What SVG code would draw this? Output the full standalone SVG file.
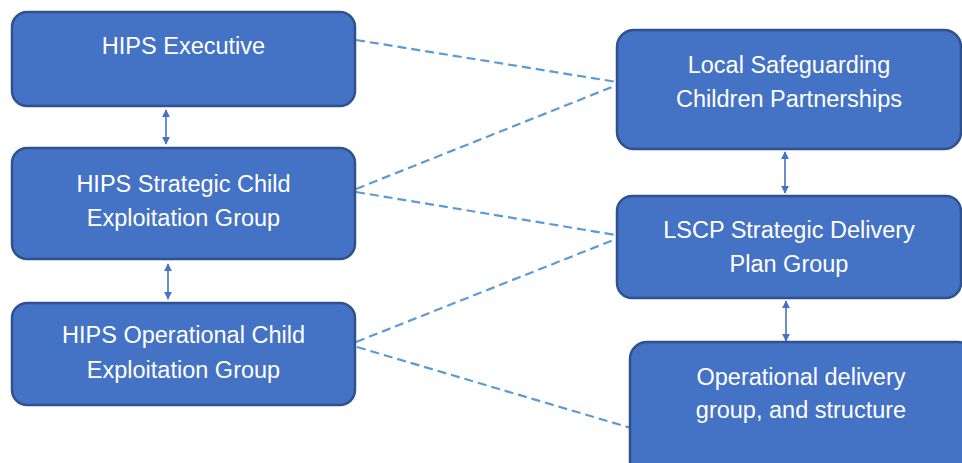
<svg xmlns="http://www.w3.org/2000/svg" width="962" height="463" viewBox="0 0 962 463">
<defs>
<style>
.box{fill:#4472C4;stroke:#2F528F;stroke-width:2.5}
.t{font-family:"Liberation Sans",Arial,sans-serif;font-size:23.5px;fill:#ffffff;text-anchor:middle}
.dash{stroke:#5B9BD5;stroke-width:2.2;stroke-dasharray:9,5;fill:none}
.arr{stroke:#4472C4;stroke-width:1.6;fill:none;marker-start:url(#ah);marker-end:url(#ah)}
</style>
<marker id="ah" viewBox="0 0 10 10" refX="9" refY="5" markerWidth="8" markerHeight="8" markerUnits="userSpaceOnUse" orient="auto-start-reverse">
<path d="M0,0 L10,5 L0,10 Z" fill="#4472C4"/>
</marker>
</defs>
<rect width="962" height="463" fill="#ffffff"/>
<g id="connectors">
<line class="dash" x1="356" y1="40" x2="617" y2="82"/>
<line class="dash" x1="356" y1="189" x2="617" y2="85"/>
<line class="dash" x1="356" y1="192" x2="616" y2="235"/>
<line class="dash" x1="356" y1="342" x2="616" y2="239"/>
<line class="dash" x1="357" y1="347" x2="631" y2="428"/>
<line class="arr" x1="166" y1="110" x2="166" y2="144"/>
<line class="arr" x1="168" y1="264" x2="168" y2="299"/>
<line class="arr" x1="785" y1="152" x2="785" y2="193"/>
<line class="arr" x1="786" y1="301" x2="786" y2="341"/>
</g>
<g id="hips-executive">
<rect class="box" x="12" y="12" width="343" height="94" rx="15"/>
<text class="t" x="183.5" y="54">HIPS Executive</text>
</g>
<g id="hips-strategic">
<rect class="box" x="12" y="148" width="343" height="111" rx="15"/>
<text class="t" x="183.5" y="192">HIPS Strategic Child</text>
<text class="t" x="183.5" y="226">Exploitation Group</text>
</g>
<g id="hips-operational">
<rect class="box" x="12" y="303" width="343" height="102" rx="15"/>
<text class="t" x="183.5" y="343">HIPS Operational Child</text>
<text class="t" x="183.5" y="378">Exploitation Group</text>
</g>
<g id="lscp">
<rect class="box" x="617" y="30" width="344" height="119" rx="17"/>
<text class="t" x="789" y="73">Local Safeguarding</text>
<text class="t" x="789" y="107">Children Partnerships</text>
</g>
<g id="lscp-strategic">
<rect class="box" x="617" y="196" width="344" height="102" rx="15"/>
<text class="t" x="789" y="238">LSCP Strategic Delivery</text>
<text class="t" x="789" y="272">Plan Group</text>
</g>
<g id="operational-delivery">
<rect class="box" x="630" y="342" width="345" height="140" rx="17"/>
<text class="t" x="801" y="385">Operational delivery</text>
<text class="t" x="801" y="418">group, and structure</text>
</g>
</svg>
